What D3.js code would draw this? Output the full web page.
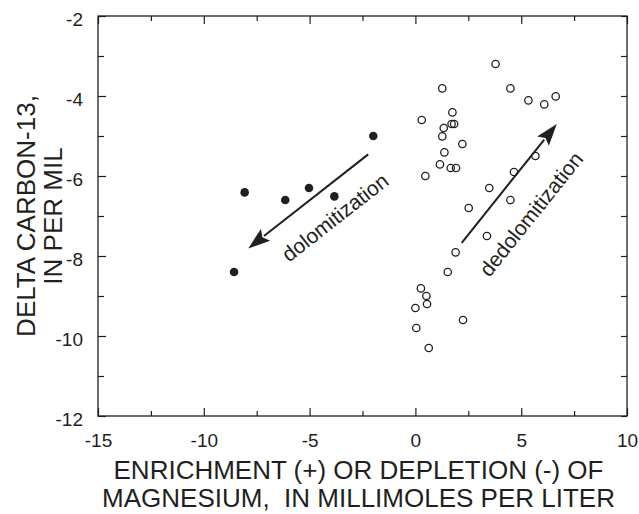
<!DOCTYPE html>
<html>
<head>
<meta charset="utf-8">
<script src="https://cdn.jsdelivr.net/npm/d3@7"></script>
<style>
  html, body { margin: 0; padding: 0; background: #fff; }
  svg { display: block; }
  text { font-family: "Liberation Sans", Arial, Helvetica, sans-serif; fill: #231f20; }
</style>
</head>
<body>
<svg id="chart" width="639" height="514"></svg>
<script>
// ---------------- data ----------------
const filledX = [-1.99, -8.07, -6.15, -5.03, -3.83, -8.57];
const filledY = [-5.00, -6.41, -6.60, -6.30, -6.51, -8.40];

const openX = [3.79, 1.27, 4.49, 5.34, 6.09, 6.63, 0.30, 1.75, 1.71, 1.83, 1.34,
               1.27, 2.22, 1.37, 1.16, 1.67, 1.92, 0.47, 5.67, 4.66, 3.49, 4.49,
               2.52, 3.38, 1.90, 1.53, 0.26, 0.52, 0.55, 0.00, 2.25, 0.04, 0.63];
const openY = [-3.20, -3.81, -3.81, -4.11, -4.21, -4.01, -4.60, -4.41, -4.70, -4.70, -4.80,
               -5.01, -5.20, -5.41, -5.71, -5.80, -5.80, -6.00, -5.50, -5.90, -6.30, -6.60,
               -6.80, -7.50, -7.91, -8.40, -8.81, -9.00, -9.20, -9.30, -9.60, -9.80, -10.30];

const xMajorTicks = [-15, -10, -5, 0, 5, 10];
const xMinorTicks = [-12.5, -7.5, -2.5, 2.5, 7.5];
const yMajorTicks = [-2, -4, -6, -8, -10, -12];
const yMinorTicks = [-3, -5, -7, -9, -11];

const arrowTailX = [-2.23, 2.19];
const arrowTailY = [-5.46, -7.67];
const arrowTipX  = [-7.90, 6.68];
const arrowTipY  = [-7.81, -4.70];
const noteText = ["dolomitization", "dedolomitization"];
const noteX = [-3.80, 5.46];
const noteY = [-7.03, -6.95];

const xTitle = ["ENRICHMENT (+) OR DEPLETION (-) OF", "MAGNESIUM,  IN MILLIMOLES PER LITER"];
const yTitle = ["DELTA CARBON-13,", "IN PER MIL"];

// ---------------- layout ----------------
const ink = "#231f20";
const plotL = 98, plotR = 627, plotT = 16, plotB = 416;
const svg = d3.select("#chart");

const x = d3.scaleLinear().domain([-15, 10]).range([plotL, plotR]);
const y = d3.scaleLinear().domain([-12, -2]).range([plotB, plotT]);

const fmt = d => String(d);
const tickFont = 19;

function styleAxis(g) {
  g.select(".domain").remove();
  g.selectAll(".tick line").attr("stroke", ink).attr("stroke-width", 1.2);
  g.selectAll(".tick text").style("font-size", tickFont + "px").attr("fill", ink);
}

// bottom
svg.append("g").attr("transform", `translate(0,${plotB})`)
  .call(d3.axisBottom(x).tickValues(xMajorTicks).tickFormat(fmt).tickSize(-8).tickPadding(18))
  .call(styleAxis);
svg.append("g").attr("transform", `translate(0,${plotB})`)
  .call(d3.axisBottom(x).tickValues(xMinorTicks).tickFormat("").tickSize(-5))
  .call(styleAxis);
// top
svg.append("g").attr("transform", `translate(0,${plotT})`)
  .call(d3.axisTop(x).tickValues(xMajorTicks).tickFormat("").tickSize(-8))
  .call(styleAxis);
svg.append("g").attr("transform", `translate(0,${plotT})`)
  .call(d3.axisTop(x).tickValues(xMinorTicks).tickFormat("").tickSize(-5))
  .call(styleAxis);
// left
svg.append("g").attr("transform", `translate(${plotL},0)`)
  .call(d3.axisLeft(y).tickValues(yMajorTicks).tickFormat(fmt).tickSize(-8).tickPadding(15))
  .call(styleAxis)
  .call(g => g.selectAll(".tick text").attr("dy", "0.5em"));
svg.append("g").attr("transform", `translate(${plotL},0)`)
  .call(d3.axisLeft(y).tickValues(yMinorTicks).tickFormat("").tickSize(-6))
  .call(styleAxis);
// right
svg.append("g").attr("transform", `translate(${plotR},0)`)
  .call(d3.axisRight(y).tickValues(yMajorTicks).tickFormat("").tickSize(-6))
  .call(styleAxis);
svg.append("g").attr("transform", `translate(${plotR},0)`)
  .call(d3.axisRight(y).tickValues(yMinorTicks).tickFormat("").tickSize(-6))
  .call(styleAxis);

// frame
svg.append("rect")
  .attr("x", plotL).attr("y", plotT)
  .attr("width", plotR - plotL).attr("height", plotB - plotT)
  .attr("fill", "none").attr("stroke", ink).attr("stroke-width", 1.3);

// ---------------- points ----------------
svg.append("g").selectAll("circle")
  .data(openX.map((v, i) => [v, openY[i]]))
  .join("circle")
  .attr("cx", d => x(d[0])).attr("cy", d => y(d[1]))
  .attr("r", 3.7)
  .attr("fill", "none").attr("stroke", ink).attr("stroke-width", 1.3);

svg.append("g").selectAll("circle")
  .data(filledX.map((v, i) => [v, filledY[i]]))
  .join("circle")
  .attr("cx", d => x(d[0])).attr("cy", d => y(d[1]))
  .attr("r", 4.3)
  .attr("fill", ink);

// ---------------- arrows & notes ----------------
const headLen = 22, headHalf = 7.5;
arrowTailX.forEach((_, i) => {
  const x1 = x(arrowTailX[i]), y1 = y(arrowTailY[i]);
  const x2 = x(arrowTipX[i]), y2 = y(arrowTipY[i]);
  const L = Math.hypot(x2 - x1, y2 - y1);
  const ux = (x2 - x1) / L, uy = (y2 - y1) / L;
  const bx = x2 - ux * headLen, by = y2 - uy * headLen;
  svg.append("line")
    .attr("x1", x1).attr("y1", y1).attr("x2", bx + ux * 2).attr("y2", by + uy * 2)
    .attr("stroke", ink).attr("stroke-width", 2);
  svg.append("path")
    .attr("d", `M${x2},${y2}L${bx - uy * headHalf},${by + ux * headHalf}L${bx + ux * 4},${by + uy * 4}L${bx + uy * headHalf},${by - ux * headHalf}Z`)
    .attr("fill", ink);
  let ang = Math.atan2(y2 - y1, x2 - x1) * 180 / Math.PI;
  if (ang > 90 || ang < -90) ang += 180;
  if (ang > 180) ang -= 360;
  svg.append("text")
    .attr("transform", `translate(${x(noteX[i])},${y(noteY[i])}) rotate(${ang})`)
    .attr("text-anchor", "middle")
    .attr("dominant-baseline", "central")
    .style("font-size", "21px")
    .text(noteText[i]);
});

// ---------------- titles ----------------
const xMid = (plotL + plotR) / 2 - 4;
svg.append("text").attr("x", xMid).attr("y", 479)
  .attr("text-anchor", "middle").style("font-size", "26px").style("white-space", "pre")
  .text(xTitle[0]);
svg.append("text").attr("x", xMid).attr("y", 507)
  .attr("text-anchor", "middle").style("font-size", "26px").style("white-space", "pre")
  .text(xTitle[1]);

const yMid = (plotT + plotB) / 2;
svg.append("text").attr("transform", `rotate(-90)`)
  .attr("x", -yMid).attr("y", 35)
  .attr("text-anchor", "middle").style("font-size", "26px")
  .text(yTitle[0]);
svg.append("text").attr("transform", `rotate(-90)`)
  .attr("x", -yMid).attr("y", 62)
  .attr("text-anchor", "middle").style("font-size", "26px")
  .text(yTitle[1]);
</script>
</body>
</html>
